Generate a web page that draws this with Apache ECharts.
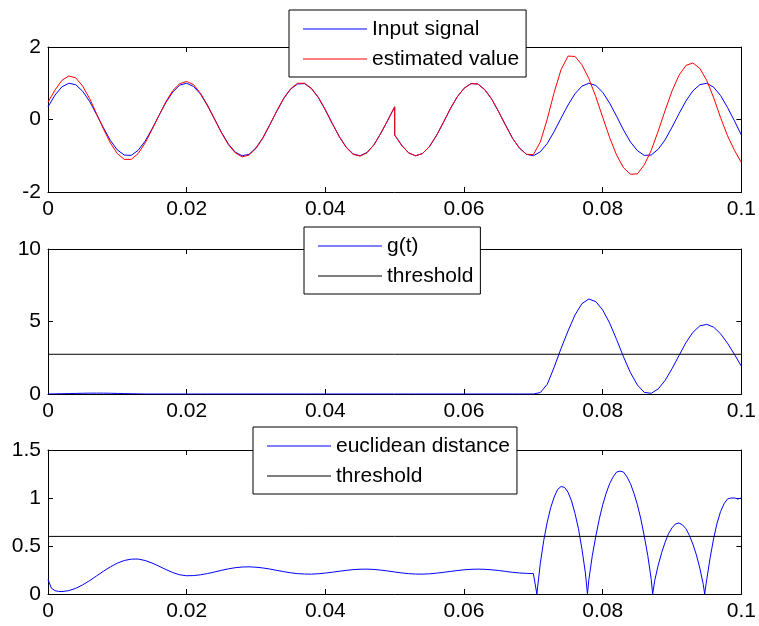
<!DOCTYPE html>
<html><head><meta charset="utf-8">
<script src="https://cdn.jsdelivr.net/npm/echarts@6/dist/echarts.min.js"></script>
<style>html,body{margin:0;padding:0;background:#fff}#c{width:759px;height:626px}</style>
</head><body><div id="c"></div>
<script>
// time samples for the signal plots (0.05 appears twice: jump in the signal)
const tSig = [
0,0.001,0.002,0.003,0.004,0.005,0.006,0.007,0.008,0.009,
0.010,0.011,0.012,0.013,0.014,0.015,0.016,0.017,0.018,0.019,
0.020,0.021,0.022,0.023,0.024,0.025,0.026,0.027,0.028,0.029,
0.030,0.031,0.032,0.033,0.034,0.035,0.036,0.037,0.038,0.039,
0.040,0.041,0.042,0.043,0.044,0.045,0.046,0.047,0.048,0.049,0.050,
0.050,0.051,0.052,0.053,0.054,0.055,0.056,0.057,0.058,0.059,
0.060,0.061,0.062,0.063,0.064,0.065,0.066,0.067,0.068,0.069,
0.070,0.071,0.072,0.073,0.074,0.075,0.076,0.077,0.078,0.079,
0.080,0.081,0.082,0.083,0.084,0.085,0.086,0.087,0.088,0.089,
0.090,0.091,0.092,0.093,0.094,0.095,0.096,0.097,0.098,0.099,0.100];

const inputSignal = [
0.35,0.67,0.90,1.00,0.96,0.78,0.50,0.14,-0.23,-0.58,
-0.84,-0.98,-0.99,-0.85,-0.60,-0.26,0.11,0.47,0.76,0.95,
1.00,0.91,0.70,0.38,0.02,-0.35,-0.67,-0.90,-1.00,-0.96,
-0.78,-0.50,-0.14,0.23,0.58,0.84,0.98,0.99,0.85,0.60,
0.26,-0.11,-0.47,-0.76,-0.95,-1.00,-0.91,-0.70,-0.38,-0.02,0.35,
-0.43,-0.71,-0.92,-1.00,-0.94,-0.75,-0.45,-0.09,0.29,0.62,
0.86,0.99,0.98,0.82,0.56,0.21,-0.16,-0.52,-0.79,-0.96,
-1.00,-0.89,-0.66,-0.33,0.04,0.40,0.71,0.92,1.00,0.94,
0.75,0.45,0.09,-0.29,-0.62,-0.86,-0.99,-0.98,-0.82,-0.56,
-0.21,0.16,0.51,0.79,0.96,1.00,0.89,0.66,0.33,-0.04,-0.43];

const estimatedValue = [
0.48,0.81,1.08,1.20,1.15,0.92,0.58,0.16,-0.26,-0.65,
-0.94,-1.10,-1.10,-0.94,-0.65,-0.28,0.11,0.49,0.80,0.99,
1.05,0.96,0.72,0.40,0.02,-0.36,-0.69,-0.92,-1.03,-0.98,
-0.80,-0.51,-0.14,0.24,0.59,0.85,1.00,1.00,0.86,0.61,
0.27,-0.11,-0.47,-0.77,-0.96,-1.01,-0.92,-0.70,-0.38,-0.02,0.35,
-0.43,-0.71,-0.92,-1.00,-0.94,-0.75,-0.45,-0.09,0.29,0.62,
0.86,0.99,0.98,0.82,0.56,0.21,-0.16,-0.52,-0.79,-0.96,
-0.97,-0.62,0.01,0.75,1.38,1.75,1.74,1.51,1.13,0.63,
0.06,-0.50,-0.98,-1.33,-1.51,-1.50,-1.25,-0.85,-0.32,0.25,
0.79,1.22,1.49,1.56,1.41,1.08,0.60,0.05,-0.45,-0.85,-1.19];

const gT = [
0,0.01,0.02,0.03,0.04,0.05,0.06,0.06,0.06,0.05,
0.04,0.03,0.02,0.01,0,0,0,0,0,0,
0,0,0,0,0,0,0,0,0,0,
0,0,0,0,0,0,0,0,0,0,
0,0,0,0,0,0,0,0,0,0,0,
0,0,0,0,0,0,0,0,0,0,
0,0,0,0,0,0,0,0,0,0,
0,0.10,0.67,1.85,3.15,4.35,5.45,6.23,6.55,6.37,
5.79,4.89,3.76,2.56,1.47,0.62,0.11,0.05,0.35,0.94,
1.75,2.65,3.54,4.25,4.70,4.80,4.61,4.15,3.50,2.73,1.91];

const gThreshold = 2.74;
const distThreshold = 0.6;

// euclidean distance samples
const distT = [
0,0.0005,0.001,0.0015,0.002,0.003,0.004,0.005,0.006,0.007,0.008,0.009,
0.010,0.011,0.012,0.013,0.014,0.015,0.016,0.017,0.018,0.019,
0.020,0.021,0.022,0.023,0.024,0.025,0.026,0.027,0.028,0.029,
0.030,0.031,0.032,0.033,0.034,0.035,0.036,0.037,0.038,0.039,
0.040,0.041,0.042,0.043,0.044,0.045,0.046,0.047,0.048,0.049,
0.050,0.051,0.052,0.053,0.054,0.055,0.056,0.057,0.058,0.059,
0.060,0.061,0.062,0.063,0.064,0.065,0.066,0.067,0.068,0.069,
0.070,0.0702,0.0705,0.0710,0.0715,0.0720,0.0725,0.0730,0.0735,0.0740,0.0745,
0.0750,0.0755,0.0760,0.0765,0.0770,0.0775,0.0778,0.0780,0.0785,0.0790,0.0795,
0.0800,0.0805,0.0810,0.0815,0.0820,0.0825,0.0830,0.0835,0.0840,0.0845,
0.0850,0.0855,0.0860,0.0865,0.0870,0.0872,0.0875,0.0880,0.0885,0.0890,0.0895,
0.0900,0.0905,0.0910,0.0915,0.0920,0.0925,0.0930,0.0935,0.0940,0.0945,0.0947,
0.0950,0.0955,0.0960,0.0965,0.0970,0.0975,0.0980,0.0985,0.0990,0.0995,0.1000];

const euclideanDistance = [
0.15,0.06,0.035,0.027,0.025,0.035,0.059,0.095,0.139,0.188,0.237,0.283,
0.321,0.349,0.363,0.364,0.349,0.323,0.290,0.255,0.223,0.200,
0.190,0.192,0.200,0.213,0.229,0.246,0.262,0.274,0.281,0.283,
0.279,0.271,0.260,0.246,0.233,0.221,0.212,0.208,0.207,0.211,
0.218,0.227,0.237,0.246,0.254,0.258,0.259,0.256,0.249,0.240,
0.229,0.220,0.212,0.208,0.207,0.210,0.217,0.225,0.235,0.244,
0.252,0.257,0.259,0.257,0.252,0.245,0.235,0.226,0.219,0.215,
0.213,0.21,0,0.32,0.56,0.75,0.90,1.01,1.09,1.12,1.11,
1.06,0.97,0.84,0.68,0.47,0.22,0,0.15,0.40,0.60,0.78,
0.93,1.05,1.15,1.22,1.27,1.28,1.27,1.22,1.15,1.05,
0.93,0.78,0.60,0.40,0.15,0,0.14,0.30,0.43,0.54,0.63,
0.69,0.73,0.74,0.72,0.68,0.61,0.52,0.41,0.27,0.10,0,
0.15,0.38,0.58,0.74,0.86,0.94,0.99,1.00,1.00,0.99,1.00];

const xTicks = {min:0, max:0.1, interval:0.02};
const yRanges = [{min:-2,max:2,interval:2},{min:0,max:10,interval:5},{min:0,max:1.5,interval:0.5}];

const FONT = '"Liberation Sans", Arial, Helvetica, sans-serif';
const grids = [
  {left:48, top:47, width:695, height:145},
  {left:48, top:249, width:695, height:145},
  {left:48, top:450, width:695, height:144}
];
const pairs = (xs, ys) => xs.map((x, i) => [x, ys[i]]);
const fmt = v => String(+v.toFixed(3));

const xAxes = [], yAxes = [];
grids.forEach((g, i) => {
  ['bottom','top'].forEach(pos => xAxes.push({
    gridIndex:i, type:'value', position:pos, min:xTicks.min, max:xTicks.max, interval:xTicks.interval,
    axisLine:{show:true, onZero:false, lineStyle:{color:'#000', width:1}},
    axisTick:{show:true, inside:true, length:5, lineStyle:{color:'#000', width:1}},
    axisLabel:{show:pos==='bottom', fontSize:21, color:'#000', fontFamily:FONT, margin:7, formatter:fmt},
    splitLine:{show:false}
  }));
  ['left','right'].forEach(pos => yAxes.push({
    gridIndex:i, type:'value', position:pos, min:yRanges[i].min, max:yRanges[i].max, interval:yRanges[i].interval,
    axisLine:{show:true, onZero:false, lineStyle:{color:'#000', width:1}},
    axisTick:{show:true, inside:true, length:5, lineStyle:{color:'#000', width:1}},
    axisLabel:{show:pos==='left', fontSize:21, color:'#000', fontFamily:FONT, margin:7, formatter:fmt},
    splitLine:{show:false}
  }));
});

const line = (name, data, color, gi) => ({
  name, type:'line', data, xAxisIndex:2*gi, yAxisIndex:2*gi, symbol:'none', showSymbol:false,
  legendIcon:'rect', smooth:false,
  lineStyle:{color, width:1}, itemStyle:{color}, animation:false, silent:true
});

const legendCommon = {
  orient:'vertical', icon:'rect', itemWidth:64, itemHeight:1, itemGap:8, padding:[8,7,7,14],
  borderColor:'#000', borderWidth:1, backgroundColor:'#fff', borderRadius:0,
  selectedMode:false, textStyle:{fontSize:21, color:'#000', fontFamily:FONT, lineHeight:22}
};

const option = {
  animation:false,
  backgroundColor:'#fff',
  grid: grids,
  xAxis: xAxes,
  yAxis: yAxes,
  legend: [
    Object.assign({data:['Input signal','estimated value'], left:289, top:10}, legendCommon),
    Object.assign({data:['g(t)','threshold'], left:304, top:227}, legendCommon),
    Object.assign({data:['euclidean distance','threshold'], left:253, top:427}, legendCommon)
  ],
  series: [
    line('Input signal', pairs(tSig, inputSignal), '#0000ff', 0),
    line('estimated value', pairs(tSig, estimatedValue), '#ff0000', 0),
    line('g(t)', pairs(tSig, gT), '#0000ff', 1),
    line('threshold', [[xTicks.min, gThreshold],[xTicks.max, gThreshold]], '#000000', 1),
    line('euclidean distance', pairs(distT, euclideanDistance), '#0000ff', 2),
    line('threshold', [[xTicks.min, distThreshold],[xTicks.max, distThreshold]], '#000000', 2)
  ]
};
const chart = echarts.init(document.getElementById('c'), null, {renderer:'canvas'});
chart.setOption(option);
</script></body></html>
